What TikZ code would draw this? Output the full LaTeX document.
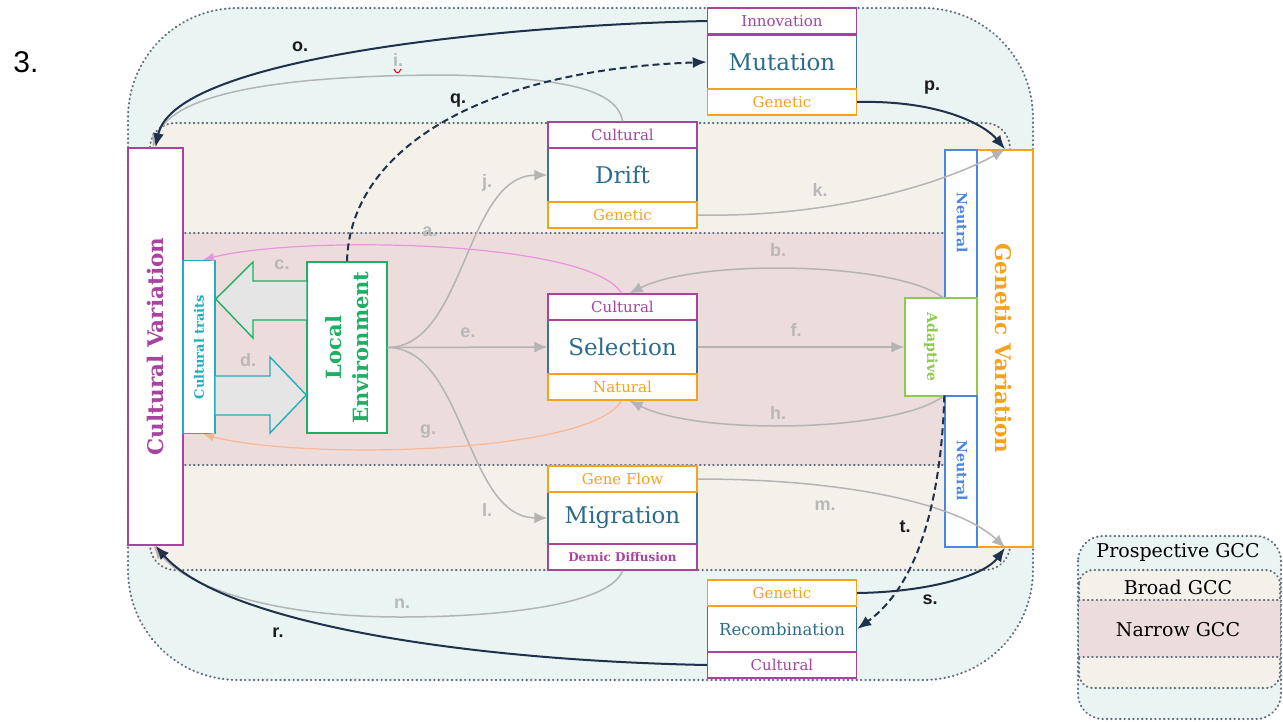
\documentclass[tikz,border=0pt]{standalone}
\usepackage{fontspec}
\setmainfont{DejaVu Serif}
\newfontfamily\labfont{Liberation Sans}
\usetikzlibrary{arrows.meta}
\definecolor{cblue}{HTML}{EAF4F3}
\definecolor{cbeige}{HTML}{F4F1EA}
\definecolor{cpink}{HTML}{EDDCDC}
\definecolor{cdot}{HTML}{5F6E7D}
\definecolor{cpurple}{HTML}{A8449E}
\definecolor{corange}{HTML}{F6A21E}
\definecolor{ctitle}{HTML}{2B6C8A}
\definecolor{cmid}{HTML}{3B7591}
\definecolor{cteal}{HTML}{1FAFBC}
\definecolor{cgreen}{HTML}{1DB063}
\definecolor{cneutral}{HTML}{4C86E0}
\definecolor{cadapt}{HTML}{8DCB4C}
\definecolor{cgray}{HTML}{B4B4B4}
\definecolor{cnavy}{HTML}{1E324B}
\definecolor{clabgray}{HTML}{B8B8B8}
\definecolor{clabdark}{HTML}{1A1A1A}
\definecolor{cpinkarr}{HTML}{E895DD}
\definecolor{corgarr}{HTML}{F6B892}
\definecolor{cfat}{HTML}{E5E5E5}
\begin{document}
\begin{tikzpicture}[x=1pt,y=-1pt,
  dotline/.style={draw=cdot, line width=2.1pt, dash pattern=on 0.5pt off 3.9pt, line cap=round},
  subp/.style={draw=cpurple, text=cpurple, fill=white, line width=1.4pt, minimum width=149pt, minimum height=26pt, inner sep=0pt, font=\fontsize{15}{15}\selectfont},
  subo/.style={subp, draw=corange, text=corange},
  midbox/.style={draw=cmid, fill=white, line width=1.4pt, minimum width=149pt, inner sep=0pt, text=ctitle, font=\fontsize{23}{23}\selectfont},
  vbox/.style={fill=white, line width=1.4pt, inner sep=0pt},
  garr/.style={draw=cgray, line width=1.5pt, -{Latex[length=13pt,width=11pt]}},
  narr/.style={draw=cnavy, line width=2pt, -{Latex[length=14pt,width=11pt]}},
  ndash/.style={narr, dash pattern=on 7pt off 4pt},
  lg/.style={text=clabgray, font=\labfont\bfseries\fontsize{18}{18}\selectfont},
  lb/.style={text=clabdark, font=\labfont\bfseries\fontsize{18}{18}\selectfont},
  legtext/.style={text=black, font=\fontsize{19}{19}\selectfont}
]
\useasboundingbox (0,0) rectangle (1283,721);

% number
\node[font=\labfont\fontsize{30}{30}\selectfont] (num) at (26,62) {3.};

% legend
\draw[dotline, fill=cblue, rounded corners=25pt] (1078,536) rectangle (1281,719);
\draw[dotline, fill=cbeige, rounded corners=14pt] (1079,570) rectangle (1280,688);
\fill[cpink] (1079,600) rectangle (1280,657);
\draw[dotline] (1079,600) -- (1280,600);
\draw[dotline] (1079,657) -- (1280,657);
\node[legtext] (lp) at (1178,552) {Prospective GCC};
\node[legtext] (lbr) at (1178,587) {Broad GCC};
\node[legtext] (lna) at (1178,630) {Narrow GCC};

% bands
\draw[dotline, fill=cblue]
  (238,8) -- (923,8) .. controls (984,8) and (1033,57) .. (1033,118)
  -- (1033,570) .. controls (1033,631) and (984,680) .. (923,680)
  -- (238,680) .. controls (177,680) and (128,631) .. (128,570)
  -- (128,118) .. controls (128,57) and (177,8) .. cycle;
\draw[dotline, fill=cbeige, rounded corners=25pt] (150,123) rectangle (1010,570);
\fill[cpink] (150,233) rectangle (1010,465);
\draw[dotline] (150,233) -- (1010,233);
\draw[dotline] (150,465) -- (1010,465);

% process boxes
\node[midbox, minimum height=54pt] (mut) at (782,62) {Mutation};
\node[subp] (mutc) at (782,21) {Innovation};
\node[subo] (mutg) at (782,102) {Genetic};

\node[midbox, minimum height=54pt] (dri) at (622.5,175) {Drift};
\node[subp] (dric) at (622.5,135) {Cultural};
\node[subo] (drig) at (622.5,215) {Genetic};

\node[midbox, minimum height=54pt] (sel) at (622.5,347) {Selection};
\node[subp] (selc) at (622.5,307) {Cultural};
\node[subo] (seln) at (622.5,387) {Natural};

\node[midbox, minimum height=52pt] (mig) at (622.5,518) {Migration};
\node[subo] (migg) at (622.5,479) {Gene Flow};
\node[subp, font=\bfseries\fontsize{12}{12}\selectfont] (migd) at (622.5,557) {Demic Diffusion};

\node[midbox, minimum height=46pt, font=\fontsize{16.5}{16.5}\selectfont] (rec) at (782,629) {Recombination};
\node[subo] (recg) at (782,593) {Genetic};
\node[subp] (recc) at (782,665) {Cultural};

% cultural side
\node[vbox, draw=cpurple, minimum width=55pt, minimum height=397pt] (cv) at (155.5,346.5) {};
\node[rotate=90, text=cpurple, font=\bfseries\fontsize{21.5}{21.5}\selectfont] (cvt) at (cv.center) {Cultural Variation};
\node[vbox, draw=cteal, minimum width=32pt, minimum height=173pt] (ct) at (199,347) {};
\node[rotate=90, text=cteal, font=\bfseries\fontsize{13}{13}\selectfont] (ctt) at (ct.center) {Cultural traits};
\node[vbox, draw=cgreen, minimum width=80pt, minimum height=171pt] (le) at (347,347.5) {};
\node[rotate=90, text=cgreen, align=center, font=\bfseries\fontsize{21}{27}\selectfont] (let) at (le.center) {Local\\Environment};

% genetic side
\node[vbox, draw=corange, minimum width=56pt, minimum height=397pt] (gv) at (1005,348.5) {};
\node[rotate=-90, text=corange, font=\bfseries\fontsize{21.5}{21.5}\selectfont] (gvt) at (1004,348.5) {Genetic Variation};
\node[vbox, draw=cneutral, minimum width=32pt, minimum height=148pt] (nt) at (961,224) {};
\node[rotate=-90, text=cneutral, font=\bfseries\fontsize{14}{14}\selectfont] (ntt) at (962,223) {Neutral};
\node[vbox, draw=cadapt, minimum width=72pt, minimum height=98pt] (ad) at (941,347) {};
\node[rotate=-90, text=cadapt, font=\bfseries\fontsize{14}{14}\selectfont] (adt) at (931,347) {Adaptive};
\node[vbox, draw=cneutral, minimum width=32pt, minimum height=151pt] (nb) at (961,471.5) {};
\node[rotate=-90, text=cneutral, font=\bfseries\fontsize{14}{14}\selectfont] (nbt) at (962,471) {Neutral};

% fat arrows c and d
\draw[draw=cgreen, fill=cfat, line width=1.4pt, line join=miter]
  (le.west |- 0,281) -- (253,281) -- (253,262) -- (ct.east |- 0,299) -- (253,338) -- (253,320) -- (le.west |- 0,320);
\draw[draw=cteal, fill=cfat, line width=1.4pt, line join=miter]
  (ct.east |- 0,376) -- (270,376) -- (270,357) -- (le.west |- 0,395) -- (270,433) -- (270,415) -- (ct.east |- 0,415);

% gray arrows
\draw[garr] (le.east) -- (sel.west);
\draw[garr] (le.east) .. controls (465,347) and (465,176) .. (dri.west);
\draw[garr] (le.east) .. controls (465,348) and (465,517) .. (mig.west);
\draw[garr] (sel.east) -- (ad.west);
\draw[garr] (nt.south west) .. controls (900,262) and (700,258) .. ([xshift=7pt]selc.north);
\draw[garr] (nb.north west) .. controls (900,432) and (700,436) .. ([xshift=7pt]seln.south);
\draw[garr] (drig.east) .. controls (850,218) and (960,175) .. (gv.north);
\draw[garr] (migg.east) .. controls (850,479) and (960,505) .. (gv.south);
\draw[garr] (dric.north) .. controls (617,88) and (560,78) .. (450,75) .. controls (250,75) and (170,100) .. ([xshift=-3pt]cv.north);
\draw[garr] (migd.south) .. controls (610,605) and (500,617) .. (400,617) .. controls (280,617) and (190,590) .. ([xshift=-2pt]cv.south);

% pink and orange arrows
\draw[draw=cpinkarr, line width=1.2pt, -{Latex[length=11pt,width=9pt]}] ([xshift=-1pt]selc.north) .. controls (590,240) and (300,235) .. ([xshift=4pt]ct.north);
\draw[draw=corgarr, line width=1.2pt, -{Latex[length=11pt,width=9pt]}] ([xshift=-1pt]seln.south) .. controls (590,455) and (300,460) .. ([xshift=4pt]ct.south);

% navy arrows
\draw[narr] (mutc.west) .. controls (520,25) and (175,55) .. (cv.north);
\draw[narr] (mutg.east) .. controls (940,100) and (985,125) .. (gv.north);
\draw[narr] (recc.west) .. controls (450,660) and (220,620) .. (cv.south);
\draw[narr] (recg.east) .. controls (930,592) and (985,575) .. (gv.south);
\draw[ndash] (le.north) .. controls (350,150) and (480,70) .. (mut.west);
\draw[ndash] (nb.north west) .. controls (942,480) and (925,580) .. (rec.east);

% labels
\node[lg] (la) at (430,232) {a.};
\node[lg] (lbb) at (778,250) {b.};
\node[lg] (lc) at (282,265) {c.};
\node[lg] (ld) at (248,360) {d.};
\node[lg] (le2) at (468,333) {e.};
\node[lg] (lf) at (796,330) {f.};
\node[lg] (lgg) at (428,432) {g.};
\node[lg] (lh) at (778,413) {h.};
\node[lg] (li) at (398,60) {i.};
\draw[red!85!black, line width=1pt] (394,69) .. controls (396,74) and (399,74) .. (401,69);
\node[lg] (lj) at (487,183) {j.};
\node[lg] (lk) at (820,190) {k.};
\node[lg] (ll) at (487,510) {l.};
\node[lg] (lm) at (825,506) {m.};
\node[lg] (ln) at (402,604) {n.};
\node[lb] (lo) at (300,47) {o.};
\node[lb] (lpp) at (932,88) {p.};
\node[lb] (lq) at (458,101) {q.};
\node[lb] (lr) at (278,633) {r.};
\node[lb] (ls) at (930,600) {s.};
\node[lb] (lt) at (905,527) {t.};
\end{tikzpicture}
\end{document}
